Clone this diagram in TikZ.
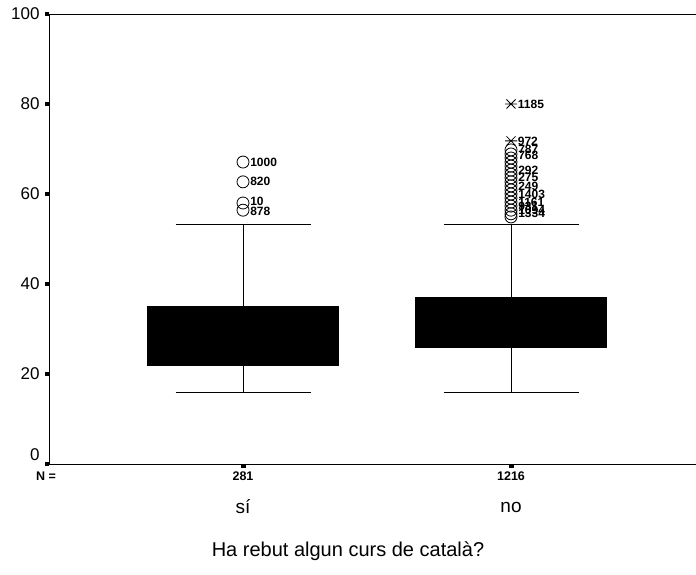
\documentclass[tikz,border=0pt]{standalone}
\usepackage{fontspec}
\setmainfont{Liberation Sans}

\begin{document}
\begin{tikzpicture}[x=1pt,y=4.5pt,line width=0.8pt]
    \tikzset{
        outl/.style={circle, draw, inner sep=0pt, minimum size=12pt},
        olab/.style={font=\bfseries\fontsize{12}{12}\selectfont, inner sep=0.5pt, anchor=west},
        ticklab/.style={font=\fontsize{17}{17}\selectfont, anchor=east, inner sep=1pt},
        nlab/.style={font=\bfseries\fontsize{12.5}{12.5}\selectfont},
        grp/.style={font=\fontsize{19}{19}\selectfont},
        astk/.pic={\draw[thick] (-6pt,0) -- (6pt,0) (-4.5pt,-4.5pt) -- (4.5pt,4.5pt) (-4.5pt,4.5pt) -- (4.5pt,-4.5pt);}
    }
    \useasboundingbox (-49,-24.667) rectangle (647,103.111);

    \draw (0,0) -- (647,0);
    \draw (0,0) -- (0,100) -- (647,100);
    \foreach \v in {20,40,...,100} {
        \fill (-4,\v-0.45) rectangle (0,\v+0.45);
        \node[ticklab] (t\v) at (-8,\v) {\v};
    }
    \fill (-4,-0.45) rectangle (0,0.45);
    \node[ticklab] (t0) at (-8,2) {0};

    \fill (191.5,0) rectangle (196.5,-0.9);
    \fill (459.5,0) rectangle (464.5,-0.9);

    \fill (98,21.8) rectangle (290,35.1);
    \draw (194,35.1) -- (194,53.3);
    \draw (194,16) -- (194,21.8);
    \draw (126.5,53.3) -- (261.5,53.3);
    \draw (126.5,16) -- (261.5,16);

    \fill (366,25.8) rectangle (558,37.1);
    \draw (462,37.1) -- (462,53.3);
    \draw (462,16) -- (462,25.8);
    \draw (394.5,53.3) -- (529.5,53.3);
    \draw (394.5,16) -- (529.5,16);

    \node[outl] (a1) at (194,67.1) {};
    \node[outl] (a2) at (194,62.7) {};
    \node[outl] (a3) at (194,58.0) {};
    \node[outl] (a4) at (194,56.4) {};
    \node[olab] at (a1.east) {1000};
    \node[olab] at (a2.east) {820};
    \node[olab] at ([yshift=2pt]a3.east) {10};
    \node[olab] at ([yshift=-1pt]a4.east) {878};

    \pic at (462,80) {astk};
    \pic at (462,71.8) {astk};
    \coordinate (s1) at (462,80);
    \coordinate (s2) at (462,71.8);
    \node[olab] at ([xshift=6pt]s1) {1185};
    \node[olab] at ([xshift=6pt]s2) {972};
    \foreach \v [count=\i] in {69.8,68.9,68.0,67.1,66.2,65.3,64.4,63.6,62.7,61.8,60.9,60.0,59.1,58.2,57.3,56.4,55.6,54.9} {
        \node[outl] (b\i) at (462,\v) {};
    }
    \node[olab] at ([yshift=1pt]b1.east) {787};
    \node[olab] at ([yshift=-1pt]b2.east) {768};
    \node[olab] at (b6.east) {292};
    \node[olab] at (b8.east) {275};
    \node[olab] at (b10.east) {249};
    \node[olab] at (b12.east) {1403};
    \node[olab] at (b14.east) {1161};
    \node[olab] at (b15.east) {931};
    \node[olab] at (b16.east) {1094};
    \node[olab] at (b17.east) {1334};

    \node[nlab] (nn) at (-3,-2.67) {N =};
    \node[nlab] (n1) at (194,-2.67) {281};
    \node[nlab] (n2) at (462,-2.67) {1216};
    \node[grp] (g1) at (194,-9.56) {sí};
    \node[grp] (g2) at (462,-9.56) {no};
    \node[font=\fontsize{20}{20}\selectfont] (title) at (299,-19.33) {Ha rebut algun curs de català?};
\end{tikzpicture}
\end{document}
